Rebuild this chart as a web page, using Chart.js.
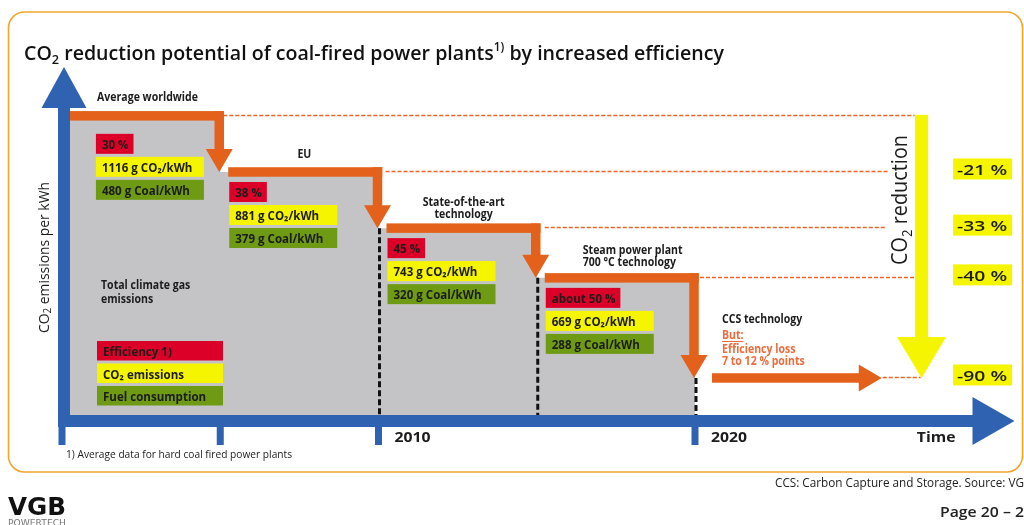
<!DOCTYPE html>
<html>
<head>
<meta charset="utf-8">
<script src="https://cdn.jsdelivr.net/npm/chart.js@4.4.1/dist/chart.umd.min.js"></script>
<style>
  html, body { margin: 0; padding: 0; background: #fff; overflow: hidden; }
  canvas { display: block; }
</style>
</head>
<body>
<canvas id="chart" width="1024" height="525"></canvas>
<script>
// stage starts on the time axis (last one = start of CCS)
const stepYears = [2000.25, 2005, 2010, 2015, 2020];
// schematic height of each stage as drawn (average worldwide = 100)
const stepLevel = [100, 81.6, 63.2, 46.9, 14.1];
const ccsEndYear = 2025.9;

const efficiency = ['30 %', '38 %', '45 %', 'about 50 %'];
const co2Values = [1116, 881, 743, 669];
const coalValues = [480, 379, 320, 288];
const reductions = ['-21 %', '-33 %', '-40 %', '-90 %'];

const tickYears = [2000, 2005, 2010, 2020];
const labelYears = [2010, 2020];

const legendLabels = ['Efficiency 1)', 'CO₂ emissions', 'Fuel consumption'];

const BLUE = '#2f62b1';
const ORANGE = '#e4611b';
const GRAY = '#c4c4c6';
const RED = '#dc0028';
const YELLOW = '#f6f500';
const GREEN = '#6e9a14';
const INK = '#1c1c1c';
const FONT = "'Open Sans'";

function put(ctx, text, x, y, font, color, opt) {
    opt = opt || {};
    ctx.save();
    ctx.font = font;
    ctx.fillStyle = color;
    ctx.textBaseline = 'alphabetic';
    const w = ctx.measureText(text).width;
    const s = opt.w ? opt.w / w : (opt.s || 1);
    ctx.translate(x, y);
    ctx.scale(s, 1);
    const dx = opt.align === 'center' ? -w / 2 : opt.align === 'right' ? -w : 0;
    ctx.fillText(text, dx, 0);
    ctx.restore();
    return w * s;
}

function squeeze(ctx, font, ref, target) {
    ctx.save();
    ctx.font = font;
    const w = ctx.measureText(ref).width;
    ctx.restore();
    return target / w;
}

function rich(ctx, parts, x, y, width, color) {
    ctx.save();
    ctx.fillStyle = color;
    let total = 0;
    parts.forEach(p => { ctx.font = p.f; p.w = ctx.measureText(p.t).width; total += p.w; });
    const s = width / total;
    ctx.translate(x, y);
    ctx.scale(s, 1);
    let cx = 0;
    parts.forEach(p => { ctx.font = p.f; ctx.fillText(p.t, cx, p.dy || 0); cx += p.w; });
    ctx.restore();
}

function tri(ctx, a, b, c) {
    ctx.beginPath();
    ctx.moveTo(a[0], a[1]);
    ctx.lineTo(b[0], b[1]);
    ctx.lineTo(c[0], c[1]);
    ctx.closePath();
    ctx.fill();
}

function dashed(ctx, x1, y1, x2, y2, color, width, dash) {
    ctx.save();
    ctx.strokeStyle = color;
    ctx.lineWidth = width;
    ctx.setLineDash(dash);
    ctx.beginPath();
    ctx.moveTo(x1, y1);
    ctx.lineTo(x2, y2);
    ctx.stroke();
    ctx.restore();
}

const artPlugin = {
    id: 'art',
    beforeDraw(chart) {
        const ctx = chart.ctx;
        ctx.save();
        ctx.fillStyle = '#fff';
        ctx.fillRect(0, 0, chart.width, chart.height);
        ctx.strokeStyle = '#f4a52c';
        ctx.lineWidth = 1.6;
        ctx.beginPath();
        ctx.roundRect(8.5, 12, 1014, 460, 16);
        ctx.stroke();
        ctx.restore();
    },
    afterDatasetsDraw(chart) {
        const ctx = chart.ctx;
        const xs = chart.scales.x, ys = chart.scales.y;
        const X = v => xs.getPixelForValue(v);
        const Y = v => ys.getPixelForValue(v);
        const x0 = X(2000), y0 = Y(0);
        const arrowX = X(2027.16);

        // thin orange reference lines
        const refStart = [X(2005) + 3, X(2010) + 7, X(2015) + 8, X(2020) + 5, X(ccsEndYear) + 1];
        const refEnd = [arrowX - 7, arrowX - 34, arrowX - 36, arrowX - 7, arrowX - 1];
        stepLevel.forEach((lv, i) => {
            const yy = Math.round(Y(lv)) - 0.5;
            dashed(ctx, refStart[i], yy, refEnd[i], yy, '#f0661e', 1.3, [4, 2]);
        });

        // black dashed stage borders
        [2010, 2015, 2020].forEach((yr, i) => {
            dashed(ctx, X(yr) + 1, Y(stepLevel[i + 2]), X(yr) + 1, y0 - 6, '#111', 3, [6, 3]);
        });

        // orange staircase with arrows
        const ow = 9.5, headW = 27, headL = 23;
        ctx.fillStyle = ORANGE;
        for (let i = 0; i < 4; i++) {
            const xStart = i === 0 ? X(stepYears[0]) : X(stepYears[i]) + 8;
            const xEnd = X(stepYears[i + 1]) - 1;
            const yL = Y(stepLevel[i]);
            const yTip = Y(stepLevel[i + 1]);
            ctx.fillRect(xStart, yL - ow / 2, xEnd + ow / 2 - xStart, ow);
            ctx.fillRect(xEnd - ow / 2, yL - ow / 2, ow, yTip - headL - yL + ow / 2 + 1);
            tri(ctx, [xEnd - headW / 2, yTip - headL], [xEnd + headW / 2, yTip - headL], [xEnd, yTip]);
        }
        const yC = Y(stepLevel[4]);
        const ccsStart = X(2020) + 17, ccsTip = X(ccsEndYear);
        ctx.fillRect(ccsStart, yC - ow / 2, ccsTip - headL - ccsStart + 1, ow);
        tri(ctx, [ccsTip - headL, yC - headW / 2], [ccsTip - headL, yC + headW / 2], [ccsTip, yC]);

        // data boxes per stage
        const boxFont = `700 12px ${FONT}`;
        const bs = squeeze(ctx, boxFont, '480 g Coal/kWh', 88);
        for (let i = 0; i < 4; i++) {
            const bx = X(stepYears[i]) + (i === 0 ? 26 : 9);
            const by = Y(stepLevel[i]) + (i === 0 ? 18 : 10);
            ctx.save();
            ctx.font = boxFont;
            const rw = ctx.measureText(efficiency[i]).width * bs + 11;
            ctx.restore();
            ctx.fillStyle = RED;
            ctx.fillRect(bx, by, rw, 20);
            ctx.fillStyle = YELLOW;
            ctx.fillRect(bx, by + 23, 108, 20);
            ctx.fillStyle = GREEN;
            ctx.fillRect(bx, by + 46, 108, 20);
            put(ctx, efficiency[i], bx + 6, by + 15, boxFont, INK, { s: bs });
            put(ctx, co2Values[i] + ' g CO₂/kWh', bx + 6, by + 38, boxFont, INK, { s: bs });
            put(ctx, coalValues[i] + ' g Coal/kWh', bx + 6, by + 61, boxFont, INK, { s: bs });
        }

        // legend
        const lgColors = [RED, YELLOW, GREEN];
        legendLabels.forEach((lab, i) => {
            const ly = y0 - 80 + i * 22.5;
            ctx.fillStyle = lgColors[i];
            ctx.fillRect(x0 + 35, ly, 126, 19.5);
            put(ctx, lab, x0 + 41, ly + 15, boxFont, INK, { s: bs });
        });

        // stage labels
        const lbFont = `700 12px ${FONT}`;
        const ls = squeeze(ctx, lbFont, 'Average worldwide', 101);
        put(ctx, 'Average worldwide', x0 + 35, Y(stepLevel[0]) - 15, lbFont, INK, { s: ls });
        put(ctx, 'EU', (X(2005) + X(2010)) / 2 + 5, Y(stepLevel[1]) - 14, lbFont, INK, { s: ls, align: 'center' });
        put(ctx, 'State-of-the-art', (X(2010) + X(2015)) / 2 + 6, Y(stepLevel[2]) - 22, lbFont, INK, { s: ls, align: 'center' });
        put(ctx, 'technology', (X(2010) + X(2015)) / 2 + 6, Y(stepLevel[2]) - 10, lbFont, INK, { s: ls, align: 'center' });
        put(ctx, 'Steam power plant', X(2015) + 46, Y(stepLevel[3]) - 24, lbFont, INK, { s: ls });
        put(ctx, '700 °C technology', X(2015) + 46, Y(stepLevel[3]) - 12, lbFont, INK, { s: ls });
        put(ctx, 'Total climate gas', x0 + 39, 289, lbFont, INK, { s: ls });
        put(ctx, 'emissions', x0 + 39, 303, lbFont, INK, { s: ls });
        const cx = X(2020) + 27;
        put(ctx, 'CCS technology', cx, yC - 55, lbFont, INK, { s: ls });
        const bw = put(ctx, 'But:', cx, yC - 39, lbFont, '#ec6c3c', { s: ls });
        ctx.fillStyle = '#ec6c3c';
        ctx.fillRect(cx, yC - 37, bw, 1);
        put(ctx, 'Efficiency loss', cx, yC - 25, lbFont, '#ec6c3c', { s: ls });
        put(ctx, '7 to 12 % points', cx, yC - 13, lbFont, '#ec6c3c', { s: ls });

        // yellow reduction arrow
        const aTop = Y(stepLevel[0]) - 1, aTip = Y(stepLevel[4]);
        ctx.fillStyle = YELLOW;
        ctx.fillRect(arrowX - 6.5, aTop, 13, aTip - 41 - aTop + 1);
        tri(ctx, [arrowX - 24.5, aTip - 41], [arrowX + 24.5, aTip - 41], [arrowX, aTip]);
        ctx.save();
        ctx.translate(arrowX - 14.5, 200);
        ctx.rotate(-Math.PI / 2);
        rich(ctx, [
            { t: 'CO', f: `500 21px ${FONT}` },
            { t: '2', f: `500 14px ${FONT}`, dy: 5 },
            { t: ' reduction', f: `500 21px ${FONT}` }
        ], -65, 0, 130, INK);
        ctx.restore();

        const redFont = `600 15px ${FONT}`;
        reductions.forEach((r, i) => {
            const ry = Y(stepLevel[i + 1]) - 3;
            ctx.fillStyle = YELLOW;
            ctx.fillRect(arrowX + 31.5, ry - 10.5, 59, 21);
            put(ctx, r, arrowX + 35.5, ry + 6, redFont, INK, { w: 50 });
        });

        // blue axes
        ctx.fillStyle = BLUE;
        const yTop = Y(ys.max);
        ctx.fillRect(x0 - 4, yTop + 40, 12, y0 + 6 - (yTop + 40));
        tri(ctx, [x0 + 2, yTop], [x0 - 20.5, yTop + 41], [x0 + 24.5, yTop + 41]);
        const xTip = X(xs.max) + 3;
        ctx.fillRect(x0 - 4, y0 - 6, xTip - 42 - x0 + 5, 12);
        tri(ctx, [xTip - 42, y0 - 24], [xTip - 42, y0 + 24], [xTip, y0]);
        tickYears.forEach(t => ctx.fillRect(X(t) - 3.5, y0 + 5, 7, 19));

        const axFont = `700 15px ${FONT}`;
        const as = squeeze(ctx, axFont, '2010', 36);
        labelYears.forEach(yr => put(ctx, String(yr), X(yr) + 16, y0 + 21, axFont, INK, { s: as }));
        put(ctx, 'Time', X(xs.max) - 56, y0 + 21, axFont, INK, { s: as, align: 'right' });

        // y axis title
        ctx.save();
        ctx.translate(49, 257.5);
        ctx.rotate(-Math.PI / 2);
        rich(ctx, [
            { t: 'CO', f: `400 14px ${FONT}` },
            { t: '2', f: `400 10px ${FONT}`, dy: 2 },
            { t: ' emissions per kWh', f: `400 14px ${FONT}` }
        ], -75.5, 0, 151, INK);
        ctx.restore();

        // title
        rich(ctx, [
            { t: 'CO', f: `600 20px ${FONT}` },
            { t: '2', f: `600 13px ${FONT}`, dy: 4 },
            { t: ' reduction potential of coal-fired power plants', f: `600 20px ${FONT}` },
            { t: '1)', f: `600 12px ${FONT}`, dy: -9 },
            { t: ' by increased efficiency', f: `600 20px ${FONT}` }
        ], 24, 60, 700, '#111');

        // notes
        put(ctx, '1) Average data for hard coal fired power plants', 66, 458, `400 11px ${FONT}`, '#222', { w: 226 });
        const ns = squeeze(ctx, `400 12.5px ${FONT}`, 'CCS: Carbon Capture and Storage. Source: VG', 249);
        put(ctx, 'CCS: Carbon Capture and Storage. Source: VGB', 775, 487, `400 12.5px ${FONT}`, '#222', { s: ns });
        const ps = squeeze(ctx, `600 15px ${FONT}`, 'Page 20 – 2', 84);
        put(ctx, 'Page 20 – 21', 940, 517, `600 15px ${FONT}`, '#222', { s: ps });

        // logo
        put(ctx, 'VGB', 8, 515, `bold 25px 'DejaVu Sans'`, '#111', { w: 58 });
        put(ctx, 'POWERTECH', 8, 526, `9px 'DejaVu Sans'`, '#777', { w: 58 });
    }
};

// grey stair area: each stage is flat from its start to the next stage start
const grayPoints = [];
for (let i = 0; i < 4; i++) {
    grayPoints.push({ x: stepYears[i], y: stepLevel[i] });
    grayPoints.push({ x: stepYears[i + 1], y: stepLevel[i] });
}

new Chart(document.getElementById('chart'), {
    type: 'line',
    data: {
        datasets: [{
            data: grayPoints,
            fill: 'origin',
            backgroundColor: GRAY,
            borderWidth: 0,
            pointRadius: 0,
            tension: 0
        }]
    },
    options: {
        responsive: false,
        animation: false,
        devicePixelRatio: 1,
        layout: { padding: { left: 62, right: 12.5, top: 67, bottom: 104 } },
        scales: {
            x: { type: 'linear', min: 2000, max: 2030, display: false },
            y: { type: 'linear', min: 0, max: 116, display: false }
        },
        plugins: {
            legend: { display: false },
            tooltip: { enabled: false }
        }
    },
    plugins: [artPlugin]
});
</script>
</body>
</html>
